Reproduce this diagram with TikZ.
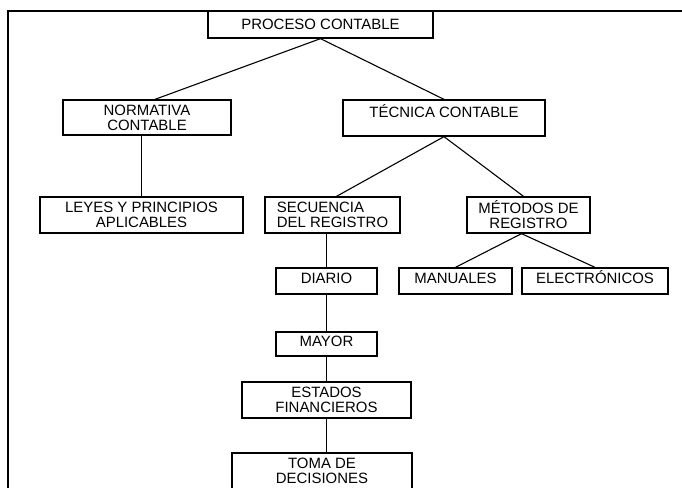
\documentclass[tikz,border=0pt]{standalone}
\usepackage{fontspec}
\setmainfont{Liberation Sans}
\usetikzlibrary{calc}

\begin{document}
\begin{tikzpicture}[x=1bp, y=-1bp,
    caja/.style={draw, line width=1.3bp, inner sep=0pt, align=center,
      font=\fontsize{15}{15}\selectfont},
    unalinea/.style={text height=10.7bp, text depth=5bp},
    enlace/.style={line width=1.1bp}]
  \useasboundingbox (0,0) rectangle (682,488);
  \clip (0,0) rectangle (682,488);
  % marco
  \draw[line width=2bp] (682,11) -- (8,11) -- (8,492);
  % primer nivel
  \node[caja, minimum width=225bp, minimum height=27bp] (proceso) at (320.5,24.5) {PROCESO CONTABLE};
  \node[caja, minimum width=168bp, minimum height=35bp] (normativa) at (147,117.5) {NORMATIVA\\CONTABLE};
  \node[caja, minimum width=202bp, minimum height=36bp] (tecnica) at (444,118) {TÉCNICA CONTABLE\\~};
  % segundo nivel
  \node[caja, minimum width=203bp, minimum height=36bp] (leyes) at (141.5,215) {LEYES Y PRINCIPIOS\\APLICABLES};
  \node[caja, align=left, minimum width=135bp, minimum height=36bp] (secuencia) at (332.5,215) {SECUENCIA\\DEL REGISTRO};
  \node[caja, minimum width=123bp, minimum height=36bp] (metodos) at (528.5,215) {MÉTODOS DE\\REGISTRO};
  \node[caja, unalinea, minimum width=113bp, minimum height=26bp] (manuales) at (455.5,281) {MANUALES};
  \node[caja, unalinea, minimum width=146bp, minimum height=26bp] (electronicos) at (595,281) {ELECTRÓNICOS};
  % secuencia
  \node[caja, unalinea, minimum width=101bp, minimum height=26bp] (diario) at (326.5,281) {DIARIO};
  \node[caja, unalinea, minimum width=101bp, minimum height=24bp] (mayor) at (326.5,344) {MAYOR};
  \node[caja, minimum width=169bp, minimum height=36bp] (estados) at (326.5,400) {ESTADOS\\FINANCIEROS};
  \node[caja, minimum width=180bp, minimum height=36bp] (toma) at (322,471) {TOMA DE\\DECISIONES};
  % enlaces
  \draw[enlace] (proceso.south) -- ([xshift=8bp]normativa.north);
  \draw[enlace] (proceso.south) -- (tecnica.north);
  \draw[enlace] (leyes.north |- normativa.south) -- (leyes.north);
  \draw[enlace] (tecnica.south) -- ([xshift=4bp]secuencia.north);
  \draw[enlace] (tecnica.south) -- ([xshift=-5bp]metodos.north);
  \draw[enlace] ([xshift=-7bp]metodos.south) -- (manuales.north);
  \draw[enlace] ([xshift=-7bp]metodos.south) -- (electronicos.north);
  \draw[enlace] (diario.north |- secuencia.south) -- (diario.north);
  \draw[enlace] (diario) -- (mayor);
  \draw[enlace] (mayor) -- (estados);
  \draw[enlace] (estados.south) -- (estados.south |- toma.north);
\end{tikzpicture}
\end{document}
